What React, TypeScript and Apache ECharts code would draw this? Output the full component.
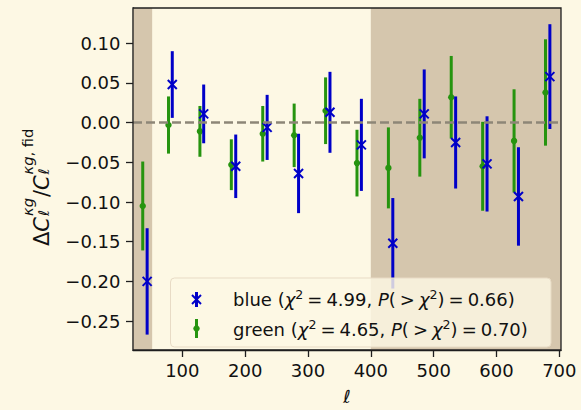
import React, { useEffect, useRef } from 'react';
import * as echarts from 'echarts';

// ---------- data ----------
const greenEll = [37, 78, 128, 178, 228, 278, 328, 378, 428, 478, 528, 578, 628, 678];
const greenVal = [-0.105, -0.003, -0.011, -0.053, -0.014, -0.016, 0.015, -0.051, -0.057, -0.019, 0.032, -0.055, -0.023, 0.038];
const greenErr = [0.056, 0.036, 0.032, 0.032, 0.035, 0.040, 0.042, 0.042, 0.051, 0.049, 0.052, 0.056, 0.065, 0.067];

const blueEll = [44, 84, 134, 185, 235, 285, 335, 385, 435, 485, 535, 585, 635, 685];
const blueVal = [-0.200, 0.048, 0.011, -0.055, -0.006, -0.064, 0.013, -0.028, -0.152, 0.011, -0.025, -0.052, -0.093, 0.058];
const blueErr = [0.067, 0.042, 0.037, 0.040, 0.041, 0.050, 0.051, 0.058, 0.057, 0.056, 0.058, 0.060, 0.062, 0.066];

const xTicks = [100, 200, 300, 400, 500, 600, 700];
const yTicks = [-0.25, -0.2, -0.15, -0.1, -0.05, 0, 0.05, 0.1];
const xRange = [21.5, 702.7];
const yRange = [-0.2864, 0.1444];
const shadeBands = [
  [21.5, 52],
  [400, 702.7],
];
const legendRows = [
  { name: 'blue', chi2: '4.99', p: '0.66' },
  { name: 'green', chi2: '4.65', p: '0.70' },
];

// ---------- style ----------
const FONT = 'DejaVu Sans';
const BG = '#fdf8e4';
const SHADE = '#d5c6ad';
const SPINE = '#1f1f1f';
const TEXT = '#111111';
const BLUE = '#0000c8';
const GREEN = '#26940f';

const fmtY = (v: number) => {
  const s = Math.abs(v).toFixed(2);
  return v < -1e-9 ? '\u2212' + s : s;
};

function errSeries(name: string, ell: number[], val: number[], err: number[], color: string, marker: 'x' | 'o', z: number) {
  return {
    type: 'custom',
    name,
    z,
    data: ell.map((x, i) => [x, val[i], err[i]]),
    encode: { x: 0, y: 1 },
    renderItem: (_params: any, api: any) => {
      const x = api.value(0);
      const y = api.value(1);
      const e = api.value(2);
      const top = api.coord([x, y + e]);
      const bot = api.coord([x, y - e]);
      const c = api.coord([x, y]);
      const children: any[] = [
        {
          type: 'line',
          shape: { x1: top[0], y1: top[1], x2: bot[0], y2: bot[1] },
          style: { stroke: color, lineWidth: 3 },
        },
      ];
      if (marker === 'x') {
        const h = 4.5;
        children.push(
          { type: 'line', shape: { x1: c[0] - h, y1: c[1] - h, x2: c[0] + h, y2: c[1] + h }, style: { stroke: color, lineWidth: 2 } },
          { type: 'line', shape: { x1: c[0] - h, y1: c[1] + h, x2: c[0] + h, y2: c[1] - h }, style: { stroke: color, lineWidth: 2 } }
        );
      } else {
        children.push({ type: 'circle', shape: { cx: c[0], cy: c[1], r: 3.2 }, style: { fill: color } });
      }
      return { type: 'group', children };
    },
  };
}

const legendRich = {
  t: { fontSize: 18, fontFamily: FONT, fill: TEXT, color: TEXT, lineHeight: 22 },
  i: { fontSize: 18, fontFamily: FONT, fontStyle: 'italic', fill: TEXT, color: TEXT, lineHeight: 22 },
  s: { fontSize: 12.6, fontFamily: FONT, fill: TEXT, color: TEXT, verticalAlign: 'top', lineHeight: 14 },
  g: { fontSize: 18, fontFamily: FONT, width: 4, lineHeight: 22 },
};
const legendText = (r: { name: string; chi2: string; p: string }) =>
  `{t|${r.name} (}{i|\u03c7}{s|2}{g| }{t|=}{g| }{t|${r.chi2}, }{i|P}{t|(}{g| }{t|>}{g| }{i|\u03c7}{s|2}{t|)}{g| }{t|=}{g| }{t|${r.p})}`;

const ylabRich = {
  n: { fontSize: 21, fontFamily: FONT, fill: TEXT, color: TEXT },
  i: { fontSize: 21, fontFamily: FONT, fontStyle: 'italic', fill: TEXT, color: TEXT },
  sn: { fontSize: 14.7, fontFamily: FONT, fill: TEXT, color: TEXT },
  si: { fontSize: 14.7, fontFamily: FONT, fontStyle: 'italic', fill: TEXT, color: TEXT },
};

export default function App() {
  const ref = useRef<HTMLDivElement>(null);
  useEffect(() => {
    if (!ref.current) return;
    const chart = echarts.init(ref.current, undefined, { renderer: 'svg' });
    const txt = (x: number, y: number, text: string) => ({
      type: 'text',
      x,
      y,
      z: 50,
      style: { text, rich: ylabRich, align: 'left', verticalAlign: 'middle' },
    });
    chart.setOption({
      animation: false,
      backgroundColor: BG,
      grid: {
        left: 133,
        top: 8,
        width: 428,
        height: 349,
        show: true,
        z: 10,
        backgroundColor: 'transparent',
        borderColor: SPINE,
        borderWidth: 1.3,
      },
      xAxis: {
        type: 'value',
        min: xRange[0],
        max: xRange[1],
        axisLine: { show: true, onZero: false, lineStyle: { color: SPINE, width: 1.3 } },
        axisTick: { show: true, customValues: xTicks, length: 7, lineStyle: { color: SPINE, width: 1.3 } },
        axisLabel: { customValues: xTicks, margin: 11, fontSize: 18, fontFamily: FONT, color: TEXT },
        splitLine: { show: false },
        name: '\u2113',
        nameLocation: 'middle',
        nameGap: 37,
        nameTextStyle: { fontSize: 18, fontStyle: 'italic', fontFamily: FONT, color: TEXT },
      },
      yAxis: {
        type: 'value',
        min: yRange[0],
        max: yRange[1],
        axisLine: { show: true, onZero: false, lineStyle: { color: SPINE, width: 1.3 } },
        axisTick: { show: true, customValues: yTicks, length: 7, lineStyle: { color: SPINE, width: 1.3 } },
        axisLabel: {
          customValues: yTicks,
          margin: 12.5,
          fontSize: 18,
          fontFamily: FONT,
          color: TEXT,
          formatter: (v: number) => fmtY(v),
          padding: [3, 0, 0, 0],
        },
        splitLine: { show: false },
      },
      graphic: [
        {
          type: 'group',
          x: 49,
          y: 246,
          rotation: Math.PI / 2,
          children: [
            txt(0, -7.4, '{n|\u0394}{i|C}'),
            txt(30, -22, '{si|\u03bag}'),
            txt(30, -6, '{si|\u2113}'),
            txt(49, -7.4, '{n|/}{i|C}'),
            txt(71.5, -22, '{si|\u03bag}{sn|, fid}'),
            txt(71.5, -6, '{si|\u2113}'),
          ],
        },
        {
          type: 'rect',
          z: 100,
          shape: { x: 170.5, y: 278, width: 380.5, height: 69, r: 4 },
          style: { fill: 'rgba(253,248,228,0.82)', stroke: '#e8dbc5', lineWidth: 1 },
        },
        { type: 'line', z: 101, shape: { x1: 196.5, y1: 292, x2: 196.5, y2: 307 }, style: { stroke: BLUE, lineWidth: 3 } },
        { type: 'line', z: 101, shape: { x1: 192, y1: 295, x2: 201, y2: 304 }, style: { stroke: BLUE, lineWidth: 2 } },
        { type: 'line', z: 101, shape: { x1: 192, y1: 304, x2: 201, y2: 295 }, style: { stroke: BLUE, lineWidth: 2 } },
        { type: 'line', z: 101, shape: { x1: 196.5, y1: 319, x2: 196.5, y2: 338 }, style: { stroke: GREEN, lineWidth: 3 } },
        { type: 'circle', z: 101, shape: { cx: 196.5, cy: 328.5, r: 3.2 }, style: { fill: GREEN } },
        {
          type: 'text',
          z: 101,
          x: 233,
          y: 299,
          style: { text: legendText(legendRows[0]), rich: legendRich, align: 'left', verticalAlign: 'middle' },
        },
        {
          type: 'text',
          z: 101,
          x: 233,
          y: 329,
          style: { text: legendText(legendRows[1]), rich: legendRich, align: 'left', verticalAlign: 'middle' },
        },
      ],
      series: [
        {
          type: 'line',
          name: 'ref',
          z: 1,
          data: [],
          silent: true,
          markArea: {
            silent: true,
            itemStyle: { color: SHADE },
            data: shadeBands.map((b) => [{ xAxis: b[0] }, { xAxis: b[1] }]),
          },
          markLine: {
            silent: true,
            symbol: ['none', 'none'],
            label: { show: false },
            lineStyle: { type: [9, 4], color: '#8d8677', width: 2.5 },
            data: [{ yAxis: 0 }],
          },
        },
        errSeries('green', greenEll, greenVal, greenErr, GREEN, 'o', 3),
        errSeries('blue', blueEll, blueVal, blueErr, BLUE, 'x', 4),
      ],
    });
    return () => chart.dispose();
  }, []);
  return <div ref={ref} style={{ position: 'fixed', left: 0, top: 0, width: 581, height: 410 }} />;
}
